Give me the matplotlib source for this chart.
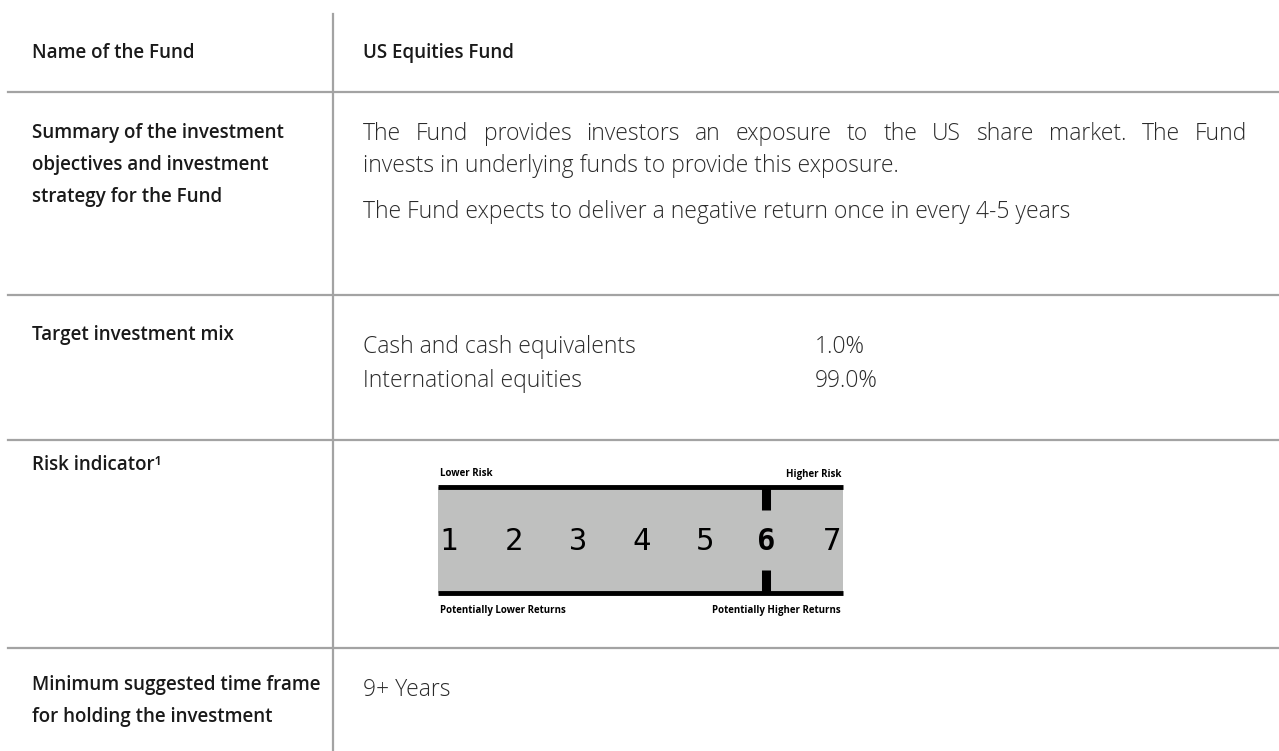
#
#   Fund summary table (US Equities Fund) drawn with matplotlib
#

import matplotlib
matplotlib.use('Agg')
import matplotlib.pyplot as plt
from matplotlib.patches import Rectangle

plt.rcParams['font.family'] = ['Open Sans', 'DejaVu Sans']

# Table content

row_labels = [
    ['Name of the Fund'],
    ['Summary of the investment', 'objectives and investment',
     'strategy for the Fund'],
    ['Target investment mix'],
    ['Risk indicator\u00b9'],
    ['Minimum suggested time frame', 'for holding the investment'],
]

fund_name = 'US Equities Fund'

summary_lines = [
    'The Fund provides investors an exposure to the US share market.  The Fund',
    'invests in underlying funds to provide this exposure.',
]
summary_note = 'The Fund expects to deliver a negative return once in every 4-5 years'

mix_names = ['Cash and cash equivalents', 'International equities']
mix_values = [1.0, 99.0]

risk_levels = [1, 2, 3, 4, 5, 6, 7]
risk_selected = 6

time_frame = '9+ Years'

# Layout (pixel coordinates, y pointing down)

W, H = 1279, 751
divider_x = 333
row_lines = [92, 295, 440, 648]
label_y = [53, 133, 335, 465, 685]
line_step = 32
left_x = 32
right_x = 363
justify_to = 1247

grid_color = '#a3a3a3'
text_color = '#1a1a1a'
light_color = '#2a2a2a'

label_size = 13.5
body_size = 16.5

fig = plt.figure(figsize=(W / 100, H / 100), dpi=100)
ax = fig.add_axes([0, 0, 1, 1])
ax.set_xlim(0, W)
ax.set_ylim(H, 0)
ax.axis('off')
renderer = fig.canvas.get_renderer()


def body_text(x, y, s):
    return ax.text(x, y, s, fontsize=body_size, fontweight='light',
                   color=light_color, va='center', ha='left')


def justified_line(y, s, x0, x1):
    # Place words one by one so the line fills x0..x1 (justified paragraph)
    words = s.split()
    arts = [body_text(x0, y, w) for w in words]
    widths = [a.get_window_extent(renderer).width for a in arts]
    gap = (x1 - x0 - sum(widths)) / (len(words) - 1)
    x = x0
    for a, w in zip(arts, widths):
        a.set_x(x)
        x += w + gap


# Grid lines

ax.plot([divider_x, divider_x], [14, H], color=grid_color, linewidth=1.6)
for y in row_lines:
    ax.plot([8, W], [y, y], color=grid_color, linewidth=1.6)

# Left column labels

for y0, lines in zip(label_y, row_labels):
    for k, line in enumerate(lines):
        ax.text(left_x, y0 + k * line_step, line, fontsize=label_size,
                fontweight='semibold', color=text_color, va='center', ha='left')

# Right column

ax.text(right_x, 53, fund_name, fontsize=label_size, fontweight='semibold',
        color=text_color, va='center', ha='left')

justified_line(134, summary_lines[0], right_x, justify_to)
body_text(right_x, 134 + line_step, summary_lines[1])
body_text(right_x, 212, summary_note)

for k, (name, val) in enumerate(zip(mix_names, mix_values)):
    y = 347 + k * 34
    body_text(right_x, y, name)
    body_text(815, y, '%.1f%%' % val)

body_text(right_x, 690, time_frame)

# Risk indicator scale

box_x0, box_x1 = 438, 843
box_y0, box_y1 = 487, 593

ax.add_patch(Rectangle((box_x0, box_y0), box_x1 - box_x0, box_y1 - box_y0,
                       facecolor='#bfc0bf', edgecolor='none', zorder=1))
ax.plot([box_x0, box_x1], [box_y0, box_y0], color='black', linewidth=3.5,
        solid_capstyle='butt', zorder=3)
ax.plot([box_x0, box_x1], [box_y1, box_y1], color='black', linewidth=3.5,
        solid_capstyle='butt', zorder=3)

num_x = [449, 514, 578, 642, 705, 766, 832]
for x, lvl in zip(num_x, risk_levels):
    bold = (lvl == risk_selected)
    ax.text(x, 541, str(lvl), fontsize=22, family='DejaVu Sans Mono',
            fontweight='bold' if bold else 'normal', color='black',
            va='center', ha='center', zorder=4)
    if bold:
        ax.plot([x, x], [box_y0, 510], color='black', linewidth=6.5,
                solid_capstyle='butt', zorder=3)
        ax.plot([x, x], [570, box_y1], color='black', linewidth=6.5,
                solid_capstyle='butt', zorder=3)

ax.text(box_x0 + 2, 474, 'Lower Risk', fontsize=7, fontweight='bold',
        color='black', va='center', ha='left')
ax.text(box_x1 - 2, 474, 'Higher Risk', fontsize=7, fontweight='bold',
        color='black', va='center', ha='right')
ax.text(box_x0 + 2, 611, 'Potentially Lower Returns', fontsize=7,
        fontweight='bold', color='black', va='center', ha='left')
ax.text(box_x1 - 2, 611, 'Potentially Higher Returns', fontsize=7,
        fontweight='bold', color='black', va='center', ha='right')

fig.savefig('out.png', dpi=100)
